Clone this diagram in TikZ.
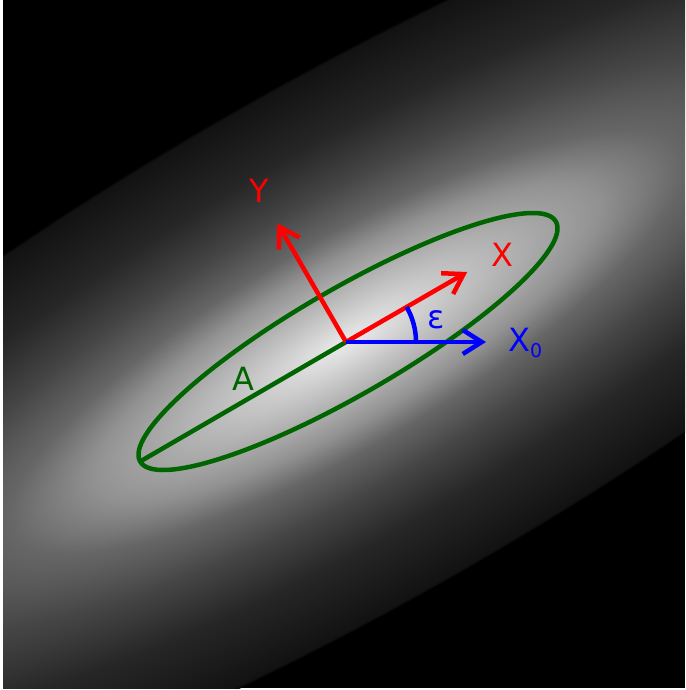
\documentclass[tikz,border=0pt]{standalone}
\usepackage{fontspec}
\setmainfont{DejaVu Sans}
\usetikzlibrary{arrows.meta,calc}
\definecolor{axred}{RGB}{255,0,0}
\definecolor{axblue}{RGB}{0,0,255}
\definecolor{elgreen}{RGB}{0,100,0}
\pgfdeclareradialshading{beam}{\pgfpoint{0bp}{0bp}}{color(0bp)=(black!8); color(3.4bp)=(black!24); color(7.5bp)=(black!43); color(10bp)=(black!60); color(13.75bp)=(black!73); color(18.4bp)=(black!85); color(24.7bp)=(black!93); color(25bp)=(black); color(50bp)=(black)}
\begin{document}
\begin{tikzpicture}[x=1pt,y=1pt,
  axisline/.style={line width=4.5pt, -{Straight Barb[length=19pt,width=24pt]}},
  plainline/.style={line width=4.5pt},
  lbl/.style={inner sep=0pt, font=\fontsize{32}{32}\selectfont},
]
\useasboundingbox (0,0) rectangle (685,-690);
\fill[white] (0,0) rectangle (685,-690);
\begin{scope}
\clip (3,0) rectangle (685,-688);
\fill[black] (3,0) rectangle (685,-688);
\begin{scope}[transform canvas={shift={(346pt,-342pt)},rotate=30,xscale=38.4,yscale=10.28}]
\shade[shading=beam] (0,0) circle (25pt);
\end{scope}
\end{scope}
% key points
\coordinate (O) at (346,-342);
\coordinate (C) at (348,-341.5);
\coordinate (T) at ($(C)+(210:240)$);
\coordinate (Xt) at ($(O)+(30:140)$);
\coordinate (Yt) at ($(O)+(120:137)$);
\coordinate (X0t) at (486,-342);
\coordinate (E0) at (416,-342);
% ellipse and A
\draw[elgreen, plainline, rotate around={30:(C)}] (C) ellipse [x radius=240pt, y radius=53pt];
\draw[elgreen, plainline] (O) -- (T);
% red axes
\draw[axred, axisline] (O) -- (Xt);
\draw[axred, axisline] (O) -- (Yt);
% blue axis and angle
\draw[axblue, axisline] (O) -- (X0t);
\draw[axblue, plainline] (E0) arc[start angle=0, end angle=30, radius=70pt];
% labels
\node[lbl, text=axred, anchor=base] (ylab) at (259,-202) {Y};
\node[lbl, text=axred, anchor=base] (xlab) at (502,-266) {X};
\node[lbl, text=elgreen, anchor=base] (alab) at (243,-390) {A};
\node[lbl, text=axblue, anchor=base] (elab) at (436,-328) {ε};
\node[lbl, text=axblue, anchor=base west] (x0lab) at (508,-351) {X\raisebox{-6pt}{\fontsize{19}{19}\selectfont 0}};
\end{tikzpicture}
\end{document}
